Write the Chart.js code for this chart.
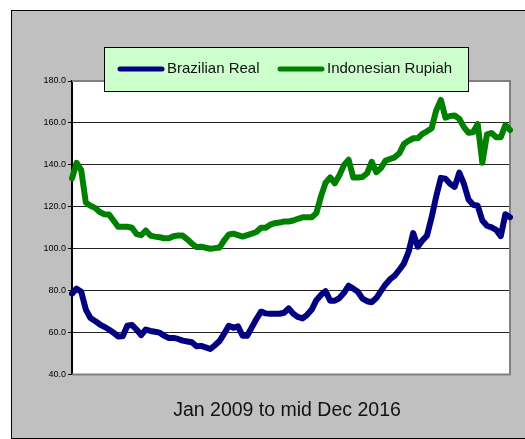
<!DOCTYPE html>
<html>
<head>
<meta charset="utf-8">
<script src="https://cdn.jsdelivr.net/npm/chart.js@4"></script>
<style>
  html, body { margin: 0; padding: 0; background: #fff; overflow: hidden; width: 525px; height: 439px; }
  #frame { position: absolute; left: 11px; top: 10px; width: 560px; height: 427px; border: 1px solid #000; background: #c0c0c0; }
  #chart { position: absolute; left: 0; top: 0; }
</style>
</head>
<body>
<div id="frame"><canvas id="chart" width="550" height="427"></canvas></div>
<script>
const years = [2009, 2010, 2011, 2012, 2013, 2014, 2015, 2016];
const monthNames = ['Jan', 'Feb', 'Mar', 'Apr', 'May', 'Jun', 'Jul', 'Aug', 'Sep', 'Oct', 'Nov', 'Dec'];
const labels = years.flatMap(y => monthNames.map(m => m + ' ' + y));

const seriesNames = ['Brazilian Real', 'Indonesian Rupiah'];
const seriesColors = ['#000080', '#008000'];

// index values, one per month
const brazilianReal = [
  78.6, 81, 79.5, 71, 67, 65.6, 64, 62.8, 61.5, 60, 58.2, 58.3,
  63.3, 63.7, 61.5, 58.8, 61.5, 60.8, 60.4, 60, 58.5, 57.5, 57.5, 57,
  56.2, 55.8, 55.4, 53.5, 53.7, 53, 52.2, 54, 56, 59.5, 63.3, 62.3,
  63, 58.5, 58.5, 62.5, 66.5, 70, 69.2, 69, 69, 69, 69.5, 71.6,
  69, 67.5, 66.8, 68.5, 71, 75.5, 78, 79.8, 75.2, 75.2, 76.5, 79,
  82.4, 81, 79.5, 76.2, 75, 74.5, 76.5, 79.8, 83, 85.5, 87.2, 90,
  93, 98.5, 107.5, 101, 104, 106.3, 115, 125, 133.8, 133.4, 131, 129.5,
  136.3, 131, 123.5, 121, 120.5, 113.5, 111, 110.2, 109, 106, 116.5, 115
];
const indonesianRupiah = [
  133.6, 141, 137.5, 122, 120.5, 119.5, 117.5, 116.5, 116.4, 113.5, 110.5, 110.5,
  110.5, 110, 107, 106.5, 108.7, 106.3, 105.8, 105.5, 105, 105, 106, 106.3,
  106.3, 104.5, 102.5, 100.8, 101, 100.5, 100, 100.3, 100.6, 104, 106.8, 107.2,
  106.5, 105.8, 106.5, 107.2, 108, 110, 110, 111.5, 112.2, 112.5, 113, 113,
  113.5, 114.3, 115, 115, 115, 117, 125, 131.5, 134, 131.2, 135, 140,
  142.5, 134, 134, 134.2, 136, 141.5, 136.5, 138.5, 142, 142.8, 143.6, 145.5,
  150, 151.5, 152.7, 152.7, 154.8, 156, 157.5, 166, 171, 162.5, 163.3, 163.5,
  162, 158, 155.3, 155.6, 159.5, 141, 154.5, 155.2, 153.2, 153.2, 159, 156.6
];

const chartTitle = 'Jan 2009 to mid Dec 2016';
const fontFamily = "'Liberation Sans', Arial, sans-serif";

// white plot area plus grey frame on top/right/bottom
const plotFrame = {
  id: 'plotFrame',
  beforeDraw(chart) {
    const { ctx, chartArea: a } = chart;
    ctx.save();
    ctx.fillStyle = '#fff';
    ctx.fillRect(a.left, a.top, a.right - a.left, a.bottom - a.top);
    ctx.restore();
  },
  beforeDatasetsDraw(chart) {
    const { ctx, chartArea: a } = chart;
    ctx.save();
    ctx.strokeStyle = '#808080';
    ctx.lineWidth = 2;
    ctx.beginPath();
    ctx.moveTo(a.left, a.top);
    ctx.lineTo(a.right, a.top);
    ctx.lineTo(a.right, a.bottom);
    ctx.lineTo(a.left, a.bottom);
    ctx.stroke();
    ctx.restore();
  }
};

// legend box that sits over the top of the plot
const boxLegend = {
  id: 'boxLegend',
  afterDraw(chart) {
    const ctx = chart.ctx;
    const x = 92, y = 36, w = 364, h = 44;
    ctx.save();
    ctx.fillStyle = '#ccffcc';
    ctx.fillRect(x, y, w, h);
    ctx.strokeStyle = '#000';
    ctx.lineWidth = 1;
    ctx.strokeRect(x + 0.5, y + 0.5, w, h);
    ctx.font = '15px ' + fontFamily;
    ctx.textBaseline = 'middle';
    const starts = [106, 266];
    chart.data.datasets.forEach((ds, i) => {
      const sx = starts[i];
      ctx.strokeStyle = ds.borderColor;
      ctx.lineWidth = 5;
      ctx.lineCap = 'round';
      ctx.beginPath();
      ctx.moveTo(sx + 2, y + 22);
      ctx.lineTo(sx + 44, y + 22);
      ctx.stroke();
      ctx.fillStyle = '#111';
      ctx.fillText(ds.label, sx + 49, y + 22);
    });
    ctx.restore();
  }
};

new Chart(document.getElementById('chart'), {
  type: 'line',
  data: {
    labels: labels,
    datasets: [
      {
        label: seriesNames[0],
        data: brazilianReal,
        borderColor: seriesColors[0],
        borderWidth: 6,
        pointRadius: 0,
        tension: 0,
        borderJoinStyle: 'round',
        borderCapStyle: 'round'
      },
      {
        label: seriesNames[1],
        data: indonesianRupiah,
        borderColor: seriesColors[1],
        borderWidth: 6,
        pointRadius: 0,
        tension: 0,
        borderJoinStyle: 'round',
        borderCapStyle: 'round'
      }
    ]
  },
  options: {
    responsive: false,
    animation: false,
    layout: { padding: { left: 0, right: 0, top: 70, bottom: 11 } },
    scales: {
      x: { display: false },
      y: {
        min: 40,
        max: 180,
        afterFit(scale) { scale.width = 60; },
        border: { color: '#000', width: 2 },
        grid: {
          color: c => (c.tick.value === 40 || c.tick.value === 180) ? 'rgba(0,0,0,0)' : '#222',
          tickColor: '#000',
          tickLength: 4,
          lineWidth: 1
        },
        ticks: {
          stepSize: 20,
          padding: 2,
          color: '#000',
          font: { family: fontFamily, size: 9 },
          callback: v => v.toFixed(1)
        }
      },
      // empty spacer on the right so the title centres on the whole frame
      yRight: {
        position: 'right',
        min: 40,
        max: 180,
        afterFit(scale) { scale.width = 52; },
        border: { display: false },
        grid: { display: false },
        ticks: { display: false }
      }
    },
    plugins: {
      legend: { display: false },
      tooltip: { enabled: false },
      title: {
        display: true,
        position: 'bottom',
        text: chartTitle,
        color: '#111',
        font: { family: fontFamily, size: 19.5, weight: 'normal' },
        padding: { top: 24, bottom: 5 }
      }
    }
  },
  plugins: [plotFrame, boxLegend]
});
</script>
</body>
</html>
